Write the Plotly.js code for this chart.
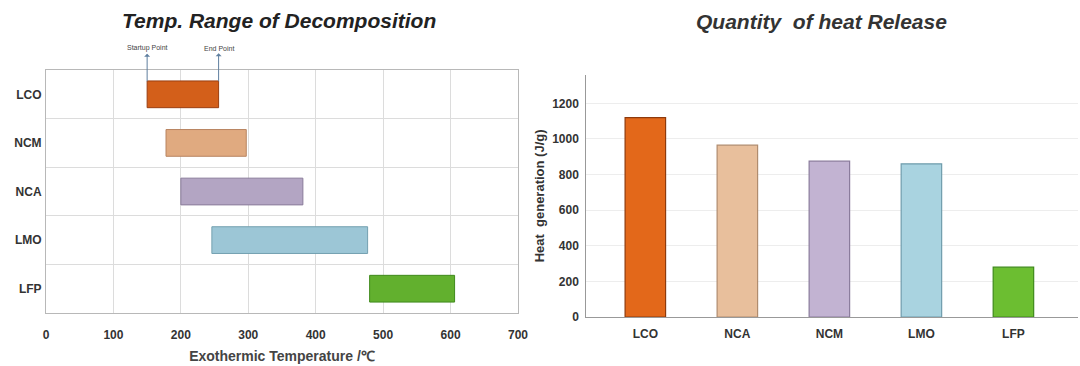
<!DOCTYPE html>
<html>
<head>
<meta charset="utf-8">
<script src="https://cdn.plot.ly/plotly-3.0.1.min.js"></script>
<style>html,body{margin:0;padding:0;background:#fff;}#chart{width:1080px;height:366px;}</style>
</head>
<body>
<div id="chart"></div>
<script>
// ---- Data ----
const rangeCategories = ['LCO', 'NCM', 'NCA', 'LMO', 'LFP'];
const startupTemp = [150, 178, 200, 246, 480];
const endTemp = [256, 297, 381, 477, 606];
const tempTicks = [0, 100, 200, 300, 400, 500, 600, 700];

const heatCategories = ['LCO', 'NCA', 'NCM', 'LMO', 'LFP'];
const heatGeneration = [1120, 965, 875, 860, 280];
const heatTicks = [0, 200, 400, 600, 800, 1000, 1200];

// ---- Styles ----
const rangeColors = ['#d35f1a', '#e0aa80', '#b3a5c3', '#9cc6d6', '#62b02e'];
const rangeLines = ['#9a3e10', '#b88460', '#8a7c9a', '#74a0b0', '#3f8a1c'];
const heatColors = ['#e3681a', '#e8bf9c', '#c2b3d2', '#a9d3e0', '#6cbe31'];
const heatLines = ['#8e3a0c', '#b08c6e', '#8a7b9c', '#6f9cac', '#3e8a1a'];

const FONT = 'Liberation Sans, Arial, sans-serif';

const traces = [
  {
    type: 'bar', orientation: 'h',
    y: rangeCategories,
    base: startupTemp,
    x: endTemp.map((e, i) => e - startupTemp[i]),
    width: 0.55,
    marker: { color: rangeColors, line: { color: rangeLines, width: 1 } },
    xaxis: 'x', yaxis: 'y',
    hoverinfo: 'skip', showlegend: false
  },
  {
    type: 'bar',
    x: heatCategories,
    y: heatGeneration,
    width: 0.44,
    marker: { color: heatColors, line: { color: heatLines, width: 1.2 } },
    xaxis: 'x2', yaxis: 'y2',
    hoverinfo: 'skip', showlegend: false
  }
];

const layout = {
  width: 1080, height: 366,
  margin: { l: 0, r: 0, t: 0, b: 0 },
  paper_bgcolor: '#ffffff', plot_bgcolor: '#ffffff',
  font: { family: FONT, color: '#333' },
  xaxis: {
    domain: [0.0426, 0.4796],
    range: [0, 700],
    tickvals: tempTicks,
    ticktext: tempTicks.map(String),
    showgrid: true, gridcolor: '#dcdcdc', gridwidth: 1,
    zeroline: false,
    showline: true, linecolor: '#b8b8b8', linewidth: 1, mirror: true,
    ticks: '', ticklen: 0, ticklabelstandoff: 11,
    tickfont: { family: FONT, size: 12, color: '#333', weight: 'bold' },
    title: { text: 'Exothermic Temperature /℃', standoff: 9,
             font: { family: FONT, size: 14, color: '#444', weight: 'bold' } },
    fixedrange: true
  },
  yaxis: {
    domain: [0.1448, 0.8087],
    type: 'category',
    categoryarray: rangeCategories, categoryorder: 'array',
    autorange: 'reversed',
    tickson: 'boundaries',
    showgrid: true, gridcolor: '#dcdcdc', gridwidth: 1,
    showline: true, linecolor: '#b8b8b8', linewidth: 1, mirror: true,
    ticks: '', ticklen: 0, ticklabelstandoff: 1,
    tickfont: { family: FONT, size: 12, color: '#333', weight: 'bold' },
    fixedrange: true
  },
  xaxis2: {
    domain: [0.543, 0.998],
    anchor: 'y2',
    type: 'category',
    range: [-0.64, 4.7],
    showgrid: false, zeroline: false,
    showline: true, linecolor: '#999', linewidth: 1.2,
    ticks: '', ticklabelstandoff: 5,
    tickfont: { family: FONT, size: 12, color: '#333', weight: 'bold' },
    fixedrange: true
  },
  yaxis2: {
    domain: [0.1339, 0.7956],
    anchor: 'x2',
    range: [0, 1360],
    tickvals: heatTicks,
    ticktext: heatTicks.map(String),
    showgrid: true, gridcolor: '#ededed', gridwidth: 1,
    zeroline: false,
    showline: true, linecolor: '#999', linewidth: 1.2,
    ticks: '', ticklabelstandoff: 4,
    tickfont: { family: FONT, size: 12, color: '#333', weight: 'bold' },
    title: { text: 'Heat  generation (J/g)', standoff: 4,
             font: { family: FONT, size: 13, color: '#333', weight: 'bold' } },
    fixedrange: true
  },
  annotations: [
    { xref: 'paper', yref: 'paper', x: 0.2580, y: 0.945, xanchor: 'center', yanchor: 'middle',
      text: 'Temp. Range of Decomposition', showarrow: false,
      font: { family: FONT, size: 21, color: '#222', weight: 'bold', style: 'italic' } },
    { xref: 'paper', yref: 'paper', x: 0.7610, y: 0.942, xanchor: 'center', yanchor: 'middle',
      text: 'Quantity  of heat Release', showarrow: false,
      font: { family: FONT, size: 21, color: '#333', weight: 'bold', style: 'italic' } },
    { xref: 'x', yref: 'y', x: startupTemp[0], y: 'LCO', yshift: 13,
      ax: 0, ay: -33, axref: 'pixel', ayref: 'pixel',
      text: 'Startup Point', showarrow: true, arrowside: 'start', arrowhead: 2, arrowsize: 0.8,
      arrowwidth: 1, arrowcolor: '#5f7f9f',
      font: { family: FONT, size: 7, color: '#444' } },
    { xref: 'x', yref: 'y', x: endTemp[0], y: 'LCO', yshift: 13,
      ax: 0, ay: -33, axref: 'pixel', ayref: 'pixel',
      text: 'End Point', showarrow: true, arrowside: 'start', arrowhead: 2, arrowsize: 0.8,
      arrowwidth: 1, arrowcolor: '#5f7f9f',
      font: { family: FONT, size: 7, color: '#444' } }
  ]
};

Plotly.newPlot('chart', traces, layout, { staticPlot: true, displayModeBar: false });
</script>
</body>
</html>
